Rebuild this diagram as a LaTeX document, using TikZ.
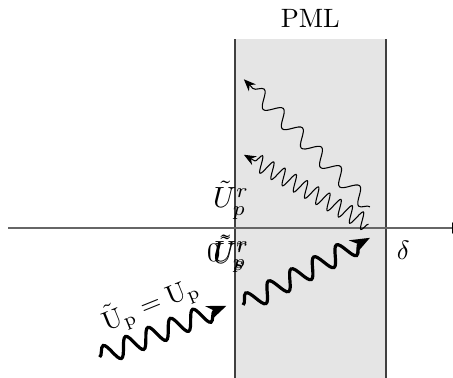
\documentclass[tikz,border=0pt]{standalone}
\usepackage{amsmath}
\usetikzlibrary{decorations.pathmorphing,arrows.meta}

\begin{document}
\begin{tikzpicture}
\def\d{2}
\def\H{2.5}

\tikzset{
  wave/.style={decorate,decoration={snake,post length=1.5mm}},
  thickwave/.style={wave,line width=1.2pt,-{Stealth[length=2.6mm,width=2mm]}},
  thinwave/.style={wave,line width=0.4pt,-{Stealth[length=1.6mm,width=1.3mm]}},
  reflab/.style={scale=1.1}
}

\useasboundingbox (-3.11,-1.98) rectangle (2.89,3.02);
\clip (-3.11,-1.98) rectangle (2.89,3.02);

% layer
\fill[black!10] (0,-2.1) rectangle (\d,\H);
\draw[black!75,line width=0.7pt] (0,-2.1) -- (0,\H);
\draw[black!75,line width=0.7pt] (\d,-2.1) -- (\d,\H);
\node (pml) at (\d/2,\H) [above=1pt] {PML};

% axis
\draw[black!60,thick,-{Latex[length=2mm,black]}] (-3,0) -- (3.08,0);
\coordinate (O) at (0,0);
\coordinate (D) at (\d,0);
\node (zero) at (-0.28,-0.33) {$0$};
\node (delta) at (2.23,-0.29) {$\delta$};
\node[reflab] (ur) at (-0.05,0.37) {$\tilde{U}^r_p$};
\node[reflab] (us) at (-0.05,-0.34) {$\tilde{U}^r_s$};
\node[reflab] (up) at (-0.05,-0.34) {$\tilde{U}^r_p$};

% waves
\coordinate (a1) at (-1.79,-1.71);
\coordinate (a2) at (-0.11,-1.03);
\coordinate (b1) at (0.11,-1.02);
\coordinate (b2) at (1.79,-0.13);
\coordinate (c1) at (1.79,0.28);
\coordinate (c2) at (0.12,1.97);
\coordinate (e1) at (1.77,0.05);
\coordinate (e2) at (0.12,0.97);

\draw[thickwave,decoration={segment length=3.2mm,amplitude=1.25mm}] (a1) -- (a2);
\draw[thickwave,decoration={segment length=3.4mm,amplitude=1.25mm}] (b1) -- (b2);
\draw[thinwave,decoration={segment length=3.6mm,amplitude=1mm}] (c1) -- (c2);
\draw[thinwave,decoration={segment length=1.7mm,amplitude=1.1mm}] (e1) -- (e2);

\node (inc) at (-1.12,-1.01) [rotate=22] {$\tilde{\mathrm{U}}_\mathrm{p}=\mathrm{U}_\mathrm{p}$};
\end{tikzpicture}
\end{document}
